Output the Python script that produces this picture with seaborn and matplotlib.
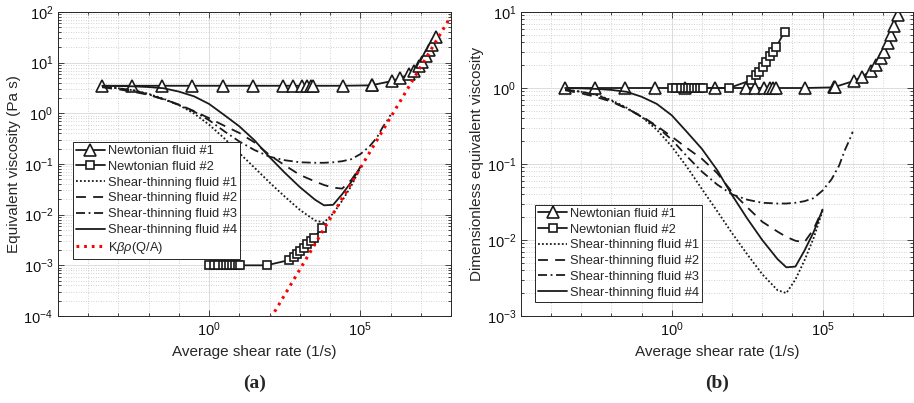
import numpy as np
import pandas as pd
import matplotlib
matplotlib.use("Agg")
import matplotlib.pyplot as plt
import matplotlib.ticker as mticker
import seaborn as sns

# ---------------- data ----------------
# Newtonian fluid #1 : shear rate (1/s) and dimensionless viscosity
nf1_rate = [2.8e-4, 2.8e-3, 2.8e-2, 0.28, 2.8, 28, 280, 590, 1150, 1780, 2340, 2820,
            2.6e4, 2.4e5, 2.5e5, 1.1e6, 2.0e6, 4.2e6, 6.0e6, 8.9e6, 1.12e7, 1.45e7,
            1.86e7, 2.4e7, 3.1e7]
nf1_dimless = [1.0, 1.0, 1.0, 1.0, 1.0, 1.0, 1.0, 1.0, 1.0, 1.0, 1.0, 1.0,
               1.0, 1.02, 1.03, 1.24, 1.41, 1.69, 2.0, 2.45, 3.0, 3.9,
               5.0, 6.5, 9.0]
nf1_eta0 = 3.5   # Pa s

# Newtonian fluid #2
nf2_rate = [1.0, 1.41, 2.0, 2.8, 3.5, 4.5, 5.6, 7.1, 8.9, 10.7, 79, 440, 630, 810,
            1050, 1380, 1780, 2290, 2950, 5500]
nf2_dimless = [1.0, 1.0, 1.0, 1.0, 1.0, 1.0, 1.0, 1.0, 1.0, 1.0, 1.0, 1.27, 1.48, 1.64,
               1.9, 2.2, 2.6, 3.0, 3.5, 5.5]
nf2_eta0 = 1.0e-3  # Pa s

# Shear-thinning fluids (common shear-rate grid)
st_rate = [2.9e-4, 1e-3, 3.2e-3, 1e-2, 3.2e-2, 0.1, 0.32, 1.0, 3.2, 10, 32, 100, 320,
           1000, 3200, 6300, 1.26e4, 2.51e4, 5.01e4, 1.0e5]
st1_dimless = [0.955, 0.891, 0.813, 0.692, 0.550, 0.417, 0.282, 0.170, 0.0912, 0.0468,
               0.0240, 0.0123, 0.00646, 0.00355, 0.00219, 0.00200, 0.00302, 0.00537,
               0.0105, 0.0240]
st2_dimless = [0.933, 0.851, 0.759, 0.661, 0.537, 0.427, 0.316, 0.229, 0.162, 0.117,
               0.0759, 0.0427, 0.0269, 0.0174, 0.0129, 0.0110, 0.00977, 0.00933,
               0.0138, 0.0251]
st4_dimless = [1.0, 0.989, 0.973, 0.944, 0.891, 0.767, 0.617, 0.437, 0.263, 0.158,
               0.0832, 0.0389, 0.0191, 0.0100, 0.00562, 0.00437, 0.00447, 0.00724,
               0.0126, 0.0251]
st3_rate = st_rate + [2.0e5, 3.55e5, 5.6e5, 7.9e5, 1.0e6]
st3_dimless = [0.955, 0.891, 0.813, 0.676, 0.537, 0.417, 0.309, 0.209, 0.126, 0.0794,
               0.0537, 0.0398, 0.0339, 0.0309, 0.0302, 0.0302, 0.0309, 0.0324, 0.0355,
               0.0447, 0.0631, 0.0955, 0.155, 0.209, 0.266]
st_eta0 = 3.5  # Pa s

# K*beta*rho*(Q/A) asymptote
kbr_rate = [1.0e1, 1.0e8]
kbr_visc = [8.3e-6, 83.0]

legend_labels = ["Newtonian fluid #1", "Newtonian fluid #2", "Shear-thinning fluid #1",
                 "Shear-thinning fluid #2", "Shear-thinning fluid #3",
                 "Shear-thinning fluid #4", "K$\\mathit{\\beta\\rho}$(Q/A)"]

# ---------------- styling ----------------
sns.set_theme(style="ticks")
plt.rcParams["font.family"] = ["Liberation Sans", "DejaVu Sans"]
plt.rcParams["mathtext.fontset"] = "custom"
plt.rcParams["mathtext.rm"] = "Liberation Sans"
plt.rcParams["mathtext.it"] = "Liberation Sans:italic"
plt.rcParams["mathtext.default"] = "regular"

W, H = 914, 403
fig = plt.figure(figsize=(W / 100, H / 100), dpi=100)
axL = fig.add_axes([58 / W, 1 - 316 / H, 393 / W, 304 / H])
axR = fig.add_axes([521 / W, 1 - 316 / H, 392 / W, 304 / H])

LW = 1.3
dot_ls = (0, (1.0, 1.2))
dash_ls = (0, (5.5, 4.0))
dashdot_ls = (0, (5.0, 2.0, 1.0, 2.0))


def draw(ax, scale):
    s_nf1 = [v * (nf1_eta0 if scale else 1.0) for v in nf1_dimless]
    s_nf2 = [v * (nf2_eta0 if scale else 1.0) for v in nf2_dimless]
    f = st_eta0 if scale else 1.0
    sns.lineplot(x=nf1_rate, y=s_nf1, ax=ax, color="k", linewidth=LW, marker="^",
                 markersize=8, markerfacecolor="white", markeredgecolor="k",
                 markeredgewidth=1.2, estimator=None, sort=False, label=legend_labels[0])
    sns.lineplot(x=nf2_rate, y=s_nf2, ax=ax, color="k", linewidth=LW, marker="s",
                 markersize=6, markerfacecolor="white", markeredgecolor="k",
                 markeredgewidth=1.2, estimator=None, sort=False, label=legend_labels[1])
    sns.lineplot(x=st_rate, y=[v * f for v in st1_dimless], ax=ax, color="k",
                 linewidth=LW, linestyle=dot_ls, estimator=None, sort=False,
                 label=legend_labels[2])
    sns.lineplot(x=st_rate, y=[v * f for v in st2_dimless], ax=ax, color="k",
                 linewidth=LW, linestyle=dash_ls, estimator=None, sort=False,
                 label=legend_labels[3])
    sns.lineplot(x=st3_rate, y=[v * f for v in st3_dimless], ax=ax, color="k",
                 linewidth=LW, linestyle=dashdot_ls, estimator=None, sort=False,
                 label=legend_labels[4])
    sns.lineplot(x=st_rate, y=[v * f for v in st4_dimless], ax=ax, color="k",
                 linewidth=LW, linestyle="-", estimator=None, sort=False,
                 label=legend_labels[5])


def style(ax, ymin, ymax):
    ax.set_xscale("log")
    ax.set_yscale("log")
    ax.set_xlim(1e-5, 1e8)
    ax.set_ylim(ymin, ymax)
    ax.xaxis.set_major_locator(mticker.FixedLocator([1e0, 1e5]))
    ax.xaxis.set_minor_locator(mticker.FixedLocator([10.0 ** k for k in range(-5, 9)]))
    ax.xaxis.set_minor_formatter(mticker.NullFormatter())
    ax.yaxis.set_major_locator(mticker.LogLocator(base=10, numticks=20))
    ax.yaxis.set_minor_locator(mticker.LogLocator(base=10, subs=np.arange(2, 10), numticks=20))
    ax.yaxis.set_minor_formatter(mticker.NullFormatter())
    fmt = mticker.FuncFormatter(lambda v, p: "$10^{%d}$" % int(round(np.log10(v))))
    ax.xaxis.set_major_formatter(fmt)
    ax.yaxis.set_major_formatter(fmt)
    ax.grid(True, which="major", color="#dcdcdc", linewidth=0.7, linestyle="-")
    ax.grid(True, which="minor", color="#c4c4c4", linewidth=0.6, linestyle=(0, (1, 2)))
    ax.set_axisbelow(True)
    ax.tick_params(which="both", direction="in", top=True, right=True, colors="#262626",
                   labelcolor="#111111", labelsize=10.5)
    ax.tick_params(which="major", length=4, width=0.6)
    ax.tick_params(which="minor", length=2.5, width=0.6)
    for sp in ax.spines.values():
        sp.set_color("#262626")
        sp.set_linewidth(0.7)
    ax.set_xlabel("Average shear rate (1/s)", fontsize=11, labelpad=4)


draw(axL, True)
sns.lineplot(x=kbr_rate, y=kbr_visc, ax=axL, color="#ff0000", linewidth=2.2,
             linestyle=(0, (0.9, 1.6)), estimator=None, sort=False, label=legend_labels[6])
style(axL, 1e-4, 1e2)
axL.set_ylabel("Equivalent viscosity (Pa s)", fontsize=11, labelpad=2)

draw(axR, False)
style(axR, 1e-3, 1e1)
axR.set_ylabel("Dimensionless equivalent viscosity", fontsize=11, labelpad=2)

legkw = dict(frameon=True, fancybox=False, framealpha=1, edgecolor="#262626",
             fontsize=9.3, handlelength=2.2, handletextpad=0.26, labelspacing=0.29,
             borderpad=0.25, borderaxespad=0, loc="lower left")
lgL = axL.legend(bbox_to_anchor=(0.038, 0.1875), **legkw)
lgR = axR.legend(bbox_to_anchor=(0.036, 0.046), **legkw)
for lg in (lgL, lgR):
    lg.get_frame().set_linewidth(0.7)

fig.text(255 / W, 1 - 383 / H, "(a)", ha="center", va="center", fontsize=14,
         fontweight="bold", family=["Liberation Serif", "DejaVu Serif"])
fig.text(717 / W, 1 - 383 / H, "(b)", ha="center", va="center", fontsize=14,
         fontweight="bold", family=["Liberation Serif", "DejaVu Serif"])

fig.savefig("out.png", dpi=100)
